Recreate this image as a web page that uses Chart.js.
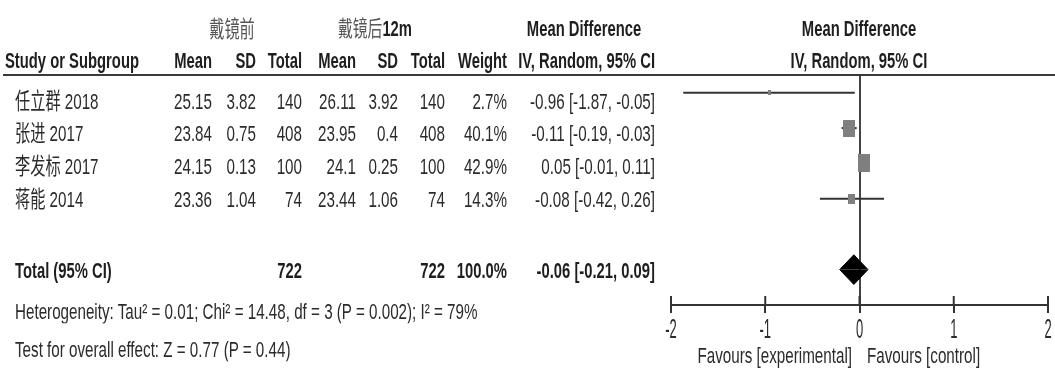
<!DOCTYPE html>
<html><head><meta charset="utf-8">
<script src="https://cdn.jsdelivr.net/npm/chart.js@4.4.1/dist/chart.umd.min.js"></script>
<style>
html,body{margin:0;padding:0;background:#fff;}
#wrap{position:relative;width:1055px;height:375px;overflow:hidden;background:#fff;}
#c{position:absolute;left:0;top:0;}
.t{position:absolute;width:0;height:0;}
.t span{position:absolute;top:0;white-space:nowrap;font-family:"Liberation Sans","Noto Sans CJK SC",sans-serif;font-size:15.2px;line-height:1;color:#2b2b2b;}
.t.b span{font-weight:bold;color:#1e1e1e;font-size:14.8px;}
.t.g span{color:#555;}
.t.l span{left:0;transform-origin:left center;transform:translateY(-50%) scale(1,1.47);}
.t.r span{right:0;transform-origin:right center;transform:translateY(-50%) scale(1,1.47);}
.t.c span{left:0;transform-origin:center center;transform:translate(-50%,-50%) scale(1,1.47);}
#hline{position:absolute;left:3px;top:74px;width:1052px;height:2px;background:#3a3a3a;}
</style>
</head><body>
<div id="wrap"><canvas id="c" width="1055" height="375"></canvas><div id="hline"></div></div>
<script>
// ---- data ----
const studies   = ['任立群 2018', '张进 2017', '李发标 2017', '蒋能 2014'];
const expMean   = ['25.15', '23.84', '24.15', '23.36'];
const expSD     = ['3.82', '0.75', '0.13', '1.04'];
const expTotal  = [140, 408, 100, 74];
const ctlMean   = ['26.11', '23.95', '24.1', '23.44'];
const ctlSD     = ['3.92', '0.4', '0.25', '1.06'];
const ctlTotal  = [140, 408, 100, 74];
const weights   = [2.7, 40.1, 42.9, 14.3];
const md        = [-0.96, -0.11, 0.05, -0.08];
const ciLow     = [-1.87, -0.19, -0.01, -0.42];
const ciHigh    = [-0.05, -0.03, 0.11, 0.26];
const totalMD   = -0.06, totalLow = -0.21, totalHigh = 0.09;
const totalExp  = 722, totalCtl = 722, totalWeight = '100.0%';
const rowIndex  = [0, 1, 2, 3];
const totalRow  = 5;
const tickValues = [-2, -1, 0, 1, 2];
const tickLabels = ['-2', '-1', '0', '1', '2'];
const heterogeneity = 'Heterogeneity: Tau² = 0.01; Chi² = 14.48, df = 3 (P = 0.002); I² = 79%';
const overallTest = 'Test for overall effect: Z = 0.77 (P = 0.44)';

// ---- table text ----
const wrap = document.getElementById('wrap');
function put(text, x, y, align, cls) {
  const d = document.createElement('div');
  d.className = 't ' + align + (cls ? ' ' + cls : '');
  d.style.left = x + 'px'; d.style.top = y + 'px';
  const s = document.createElement('span');
  s.innerHTML = text;
  d.appendChild(s); wrap.appendChild(d);
}
const H1 = 29, H2 = 61;
const textRows = [101, 133, 166, 199];
const yTotal = 271, yHet = 311, yTest = 349;
const col = {study: 15, em: 212, es: 256, et: 302, cm: 356, cs: 398, ct: 445, w: 507, ci: 655};

put('戴镜前', 232, H1, 'c', 'g');
put('<span style="position:static;color:#555;font-weight:normal">戴镜后</span>12m', 375, H1, 'c', 'b');
put('Mean Difference', 584, H1, 'c', 'b');
put('Mean Difference', 859, H1, 'c', 'b');
put('Study or Subgroup', 5, H2, 'l', 'b');
put('Mean', col.em, H2, 'r', 'b');
put('SD', col.es, H2, 'r', 'b');
put('Total', col.et, H2, 'r', 'b');
put('Mean', col.cm, H2, 'r', 'b');
put('SD', col.cs, H2, 'r', 'b');
put('Total', col.ct, H2, 'r', 'b');
put('Weight', col.w, H2, 'r', 'b');
put('IV, Random, 95% CI', col.ci, H2, 'r', 'b');
put('IV, Random, 95% CI', 859, H2, 'c', 'b');

const f2 = v => v.toFixed(2);
studies.forEach((s, i) => {
  const y = textRows[i];
  put(s, col.study, y, 'l');
  put(expMean[i], col.em, y, 'r');
  put(expSD[i], col.es, y, 'r');
  put(String(expTotal[i]), col.et, y, 'r');
  put(ctlMean[i], col.cm, y, 'r');
  put(ctlSD[i], col.cs, y, 'r');
  put(String(ctlTotal[i]), col.ct, y, 'r');
  put(weights[i].toFixed(1) + '%', col.w, y, 'r');
  put(f2(md[i]) + ' [' + f2(ciLow[i]) + ', ' + f2(ciHigh[i]) + ']', col.ci, y, 'r');
});
put('Total (95% CI)', col.study, yTotal, 'l', 'b');
put(String(totalExp), col.et, yTotal, 'r', 'b');
put(String(totalCtl), col.ct, yTotal, 'r', 'b');
put(totalWeight, col.w, yTotal, 'r', 'b');
put(f2(totalMD) + ' [' + f2(totalLow) + ', ' + f2(totalHigh) + ']', col.ci, yTotal, 'r', 'b');
put(heterogeneity, col.study, yHet, 'l');
put(overallTest, col.study, yTest, 'l');
put('Favours [experimental]', 852, 355, 'r');
put('Favours [control]', 867, 355, 'l');

// ---- forest plot ----
const LINE = '#333333', BOX = '#7f7f7f';
const DIAMOND_HALF = 0.42;
function boxImage(w) {
  const side = Math.max(2, 1.9 * Math.sqrt(w));
  const c = document.createElement('canvas');
  c.width = Math.round(side); c.height = Math.round(side * 1.45);
  const g = c.getContext('2d'); g.fillStyle = BOX; g.fillRect(0, 0, c.width, c.height);
  return c;
}
const datasets = [];
datasets.push({
  data: rowIndex.map(i => ({x: md[i], y: i})),
  pointStyle: ctx => boxImage(weights[ctx.dataIndex]),
  showLine: false
});
rowIndex.forEach(i => datasets.push({
  data: [{x: ciLow[i], y: i}, {x: ciHigh[i], y: i}],
  showLine: true, borderColor: LINE, borderWidth: 2, pointRadius: 0
}));
datasets.push({
  data: [{x: totalLow, y: totalRow}, {x: totalMD, y: totalRow - DIAMOND_HALF}, {x: totalHigh, y: totalRow}],
  showLine: true, borderColor: '#000', borderWidth: 1, pointRadius: 0,
  backgroundColor: '#000', fill: {value: totalRow}
});
datasets.push({
  data: [{x: totalLow, y: totalRow}, {x: totalMD, y: totalRow + DIAMOND_HALF}, {x: totalHigh, y: totalRow}],
  showLine: true, borderColor: '#000', borderWidth: 1, pointRadius: 0,
  backgroundColor: '#000', fill: {value: totalRow}
});

const axisDecor = {
  id: 'axisDecor',
  afterDraw(chart) {
    const sx = chart.scales.x, ctx = chart.ctx;
    const yAxis = sx.top;
    ctx.save();
    ctx.strokeStyle = LINE; ctx.lineWidth = 2;
    sx.ticks.forEach(t => {
      const x = sx.getPixelForValue(t.value);
      ctx.beginPath(); ctx.moveTo(x, yAxis); ctx.lineTo(x, yAxis - 9); ctx.stroke();
    });
    ctx.fillStyle = '#2b2b2b';
    ctx.font = '13px "Liberation Sans", sans-serif';
    ctx.textAlign = 'center'; ctx.textBaseline = 'middle';
    sx.ticks.forEach((t, i) => {
      const x = sx.getPixelForValue(t.value);
      const idx = tickValues.indexOf(t.value);
      ctx.save(); ctx.translate(x, 330); ctx.scale(1, 2.1);
      ctx.fillText(tickLabels[idx >= 0 ? idx : i], 0, 0);
      ctx.restore();
    });
    ctx.restore();
  }
};

new Chart(document.getElementById('c'), {
  type: 'scatter',
  data: {datasets},
  plugins: [axisDecor],
  options: {
    responsive: false, animation: false, devicePixelRatio: 1,
    layout: {padding: {left: 671, right: 7, top: 75, bottom: 62}},
    plugins: {legend: {display: false}, tooltip: {enabled: false}},
    elements: {point: {radius: 3, backgroundColor: BOX, borderWidth: 0}, line: {tension: 0}},
    scales: {
      y: {type: 'linear', min: -0.5, max: 6, reverse: true, display: false},
      x: {
        type: 'linear', min: -2, max: 2,
        afterFit: s => { s.height = 8; },
        ticks: {display: false, stepSize: 1},
        grid: {
          drawOnChartArea: true, drawTicks: true, tickLength: 8,
          color: c => (c.tick && c.tick.value === 0) ? '#444' : 'rgba(0,0,0,0)',
          lineWidth: 2, tickColor: LINE, tickWidth: 2
        },
        border: {display: true, color: LINE, width: 2}
      }
    }
  }
});
</script>
</body></html>
